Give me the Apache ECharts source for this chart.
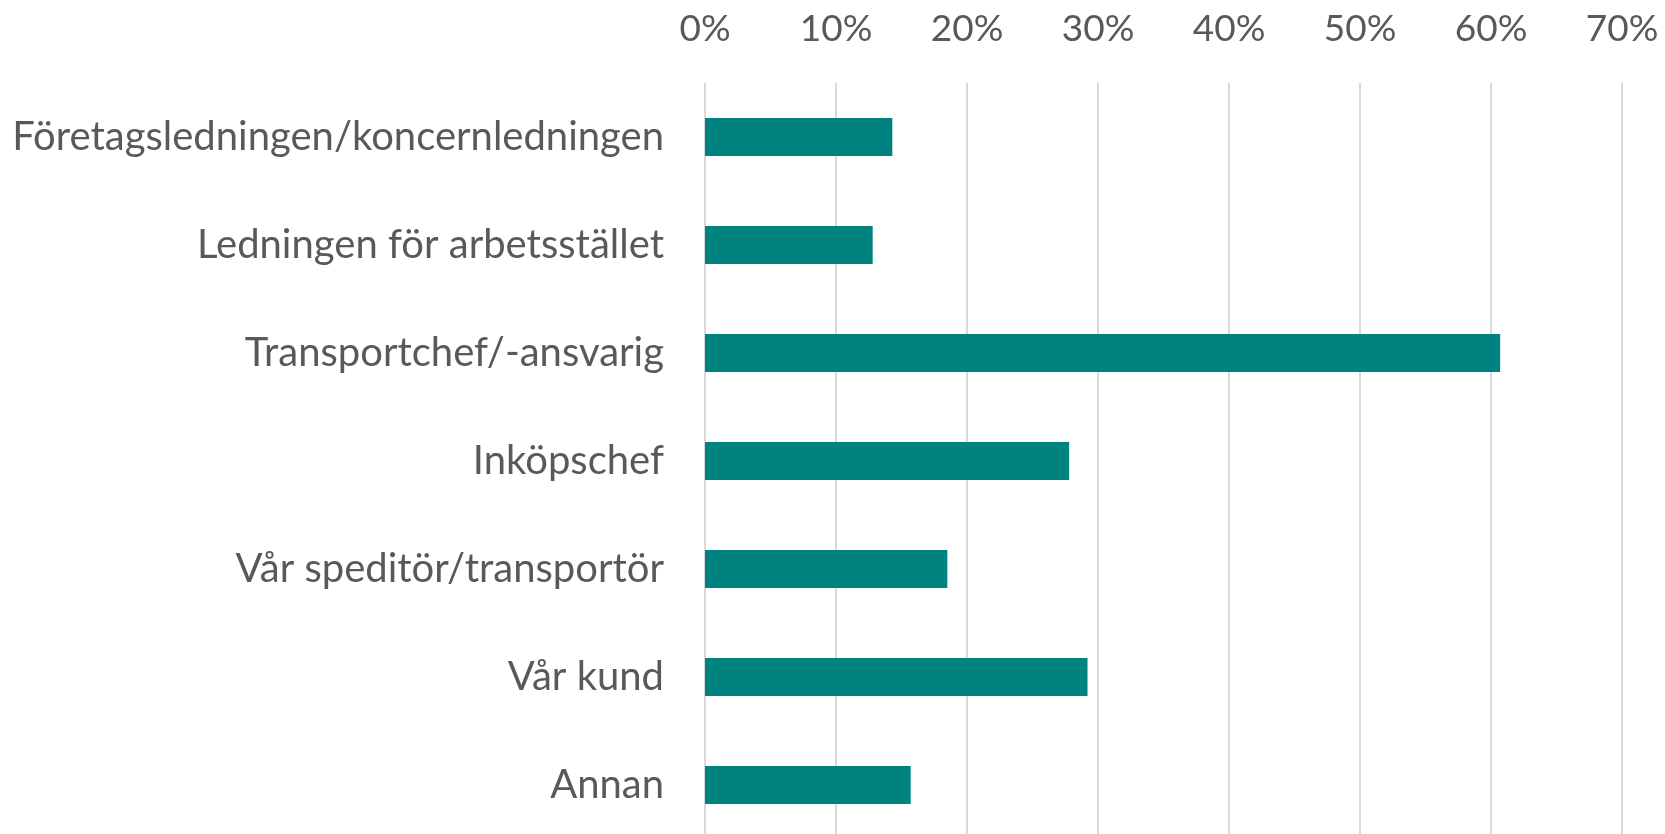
<!DOCTYPE html>
<html>
<head>
<meta charset="utf-8">
<script src="https://cdn.jsdelivr.net/npm/echarts@6/dist/echarts.min.js"></script>
<style>
    html, body { margin: 0; padding: 0; background: #fff; overflow: hidden; }
    /* lite högre än fönstret: plotytan fortsätter under bildkanten som i originalet */
    #chart { width: 1665px; height: 845px; }
</style>
</head>
<body>
<div id="chart"></div>
<script>
// kategorier (uppifrån och ned)
const categories = [
    'Företagsledningen/koncernledningen',
    'Ledningen för arbetsstället',
    'Transportchef/-ansvarig',
    'Inköpschef',
    'Vår speditör/transportör',
    'Vår kund',
    'Annan'
];
// andel i procent
const values = [14.3, 12.8, 60.7, 27.8, 18.5, 29.2, 15.7];
// x-axelns skala
const axisMin = 0;
const axisMax = 70;
const axisStep = 10;

const textColor = '#595959';
const fontFamily = 'Lato, "Noto Sans", sans-serif';

const chart = echarts.init(document.getElementById('chart'));

chart.setOption({
    animation: false,
    grid: {
        left: 705,
        right: 43,
        top: 83,
        bottom: 6
    },
    xAxis: {
        type: 'value',
        position: 'top',
        min: axisMin,
        max: axisMax,
        interval: axisStep,
        axisLine: { show: false },
        axisTick: { show: false },
        axisLabel: {
            color: textColor,
            fontSize: 37,
            fontFamily: fontFamily,
            margin: 35,
            formatter: '{value}%'
        },
        splitLine: { lineStyle: { color: '#d9d9d9', width: 2 } }
    },
    yAxis: {
        type: 'category',
        data: categories,
        inverse: true,
        axisLine: { show: false },
        axisTick: { show: false },
        axisLabel: {
            color: textColor,
            fontSize: 40,
            fontFamily: fontFamily,
            margin: 41
        }
    },
    series: [{
        type: 'bar',
        data: values,
        barWidth: 38,
        itemStyle: { color: '#008281' }
    }]
});
</script>
</body>
</html>
